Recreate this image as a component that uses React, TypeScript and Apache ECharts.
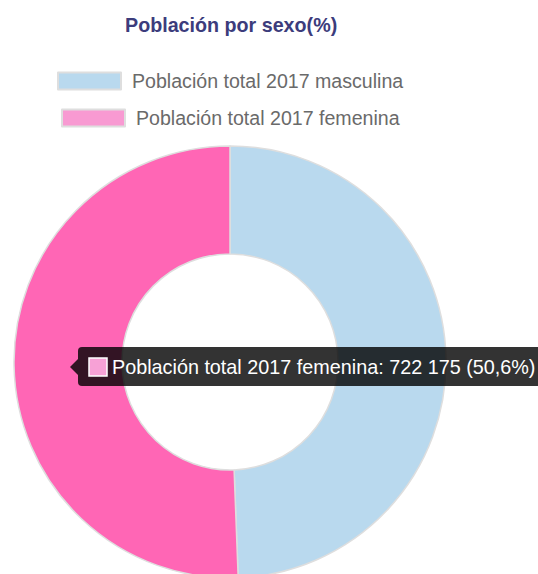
import React, { useEffect, useRef } from "react";
import * as echarts from "echarts";

const titleText = "Población por sexo(%)";
const categories = ["Población total 2017 masculina", "Población total 2017 femenina"];
const values = [704916, 722175];
const sliceColors = ["#b9d9ee", "#ff66b5"];
const legendColors = ["#b9d9ee", "#f89ad2"];
const tooltipIndex = 1;

const FONT = 'Arial, "Liberation Sans", sans-serif';

function fmtNum(v: number): string {
  return String(v).replace(/\B(?=(\d{3})+(?!\d))/g, " ");
}

export default function App() {
  const ref = useRef<HTMLDivElement>(null);
  useEffect(() => {
    if (!ref.current) return;
    const chart = echarts.init(ref.current, undefined, { renderer: "svg" });
    const total = values.reduce((a, b) => a + b, 0);
    const pct = ((values[tooltipIndex] / total) * 100).toFixed(1).replace(".", ",");
    const tipText = `${categories[tooltipIndex]}: ${fmtNum(values[tooltipIndex])} (${pct}%)`;
    chart.setOption({
      animation: false,
      title: {
        text: titleText,
        left: 125,
        top: 15,
        padding: 0,
        textStyle: { fontFamily: FONT, fontSize: 19.7, fontWeight: "bold", color: "#3c3c7c" },
      },
      legend: categories.map((c, i) => ({
        data: [{ name: c, itemStyle: { color: legendColors[i] } }],
        left: i === 0 ? 57 : 61,
        top: i === 0 ? 71 : 108,
        padding: 0,
        itemWidth: 63,
        itemHeight: 17,
        itemGap: 0,
        icon: "rect",
        selectedMode: false,
        textStyle: { fontFamily: FONT, fontSize: 19.6, color: "#6a6a6a", padding: [0, 0, 0, 6] },
      })),
      series: [
        {
          type: "pie",
          center: [230, 362],
          radius: [108, 216],
          startAngle: 90,
          clockwise: true,
          label: { show: false },
          labelLine: { show: false },
          itemStyle: { borderColor: "#dedede", borderWidth: 1.5 },
          data: categories.map((c, i) => ({
            name: c,
            value: values[i],
            itemStyle: { color: sliceColors[i] },
          })),
        },
      ],
      graphic: [
        {
          type: "polygon",
          z: 100,
          shape: { points: [[70, 367], [78, 359], [78, 375]] },
          style: { fill: "rgba(0,0,0,0.8)" },
        },
        {
          type: "rect",
          z: 100,
          shape: { x: 78, y: 347, width: 470, height: 39, r: 4 },
          style: { fill: "rgba(0,0,0,0.8)" },
        },
        {
          type: "rect",
          z: 101,
          shape: { x: 89, y: 358, width: 18, height: 18 },
          style: { fill: "#f7a1d6", stroke: "#ffffff", lineWidth: 1.5 },
        },
        {
          type: "text",
          z: 101,
          x: 112,
          y: 367,
          style: {
            text: tipText,
            fill: "#ffffff",
            fontFamily: FONT,
            fontSize: 19.8,
            verticalAlign: "middle",
            align: "left",
          },
        },
      ],
    });
    return () => chart.dispose();
  }, []);
  return (
    <div
      ref={ref}
      style={{ position: "fixed", left: 0, top: 0, width: 538, height: 574, background: "#fff" }}
    />
  );
}
